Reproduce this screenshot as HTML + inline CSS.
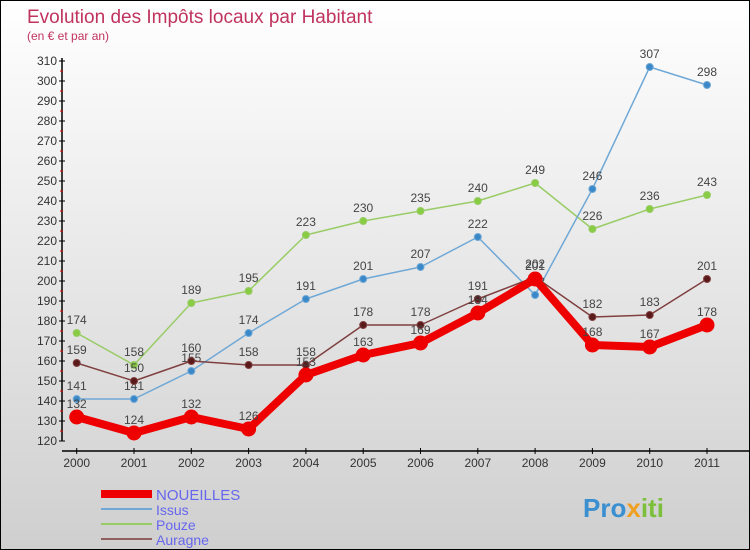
<!DOCTYPE html>
<html><head><meta charset="utf-8"><style>
body{margin:0}
#c{width:750px;height:550px;position:relative;box-sizing:border-box;border:1px solid #000;background:linear-gradient(#fff,#cfcfcf);font-family:"Liberation Sans",sans-serif;overflow:hidden}
svg text{font-family:"Liberation Sans",sans-serif}
</style></head><body>
<div id="c">
<svg id="s" width="750" height="550">
<text x="26" y="22" font-size="19" fill="#c0335f">Evolution des Impôts locaux par Habitant</text>
<text x="26" y="39" font-size="12" fill="#c0335f">(en € et par an)</text>
</svg>
</div>
<script>
const years=[2000,2001,2002,2003,2004,2005,2006,2007,2008,2009,2010,2011];
const noueilles=[132,124,132,126,153,163,169,184,201,168,167,178];
const issus=[141,141,155,174,191,201,207,222,193,246,307,298];
const pouze=[174,158,189,195,223,230,235,240,249,226,236,243];
const auragne=[159,150,160,158,158,178,178,191,202,182,183,201];
const yTicks=[120,130,140,150,160,170,180,190,200,210,220,230,240,250,260,270,280,290,300,310];
const NS='http://www.w3.org/2000/svg', svg=document.getElementById('s');
const X=i=>75.7+i*57.3, Y=v=>60+(310-v)*2;
function mk(t,a,p){const e=document.createElementNS(NS,t);for(const k in a)e.setAttribute(k,a[k]);(p||svg).appendChild(e);return e;}
let e=mk('line',{x1:61,y1:57,x2:61,y2:440,stroke:'#000','stroke-width':1.5});


e=mk('line',{x1:61,y1:450,x2:749,y2:450,stroke:'#000','stroke-width':1.5});


yTicks.forEach(v=>{
 mk('line',{x1:58,y1:Y(v),x2:64,y2:Y(v),stroke:'#000'});
 if(v<310)mk('line',{x1:59,y1:Y(v+5),x2:62,y2:Y(v+5),stroke:'#e00'});
 const t=mk('text',{x:56,y:Y(v)+4,'font-size':12,fill:'#333','text-anchor':'end'});t.textContent=v;
 
 
});
years.forEach((y,i)=>{
 mk('line',{x1:X(i),y1:447,x2:X(i),y2:453,stroke:'#000'});
 const t=mk('text',{x:X(i),y:466,'font-size':12,fill:'#333','text-anchor':'middle'});t.textContent=y;
 
 
});
function series(d,col,w,r,name,dot){
 const g=mk('g',{});
 
 
 mk('polyline',{points:d.map((v,i)=>X(i)+','+Y(v)).join(' '),fill:'none',stroke:col,'stroke-width':w,'stroke-linejoin':'round'},g);
 d.forEach((v,i)=>{
  const c=mk('circle',{cx:X(i),cy:Y(v),r:r,fill:dot,stroke:col},g);
  
  
  const t=mk('text',{x:X(i),y:Y(v)-9,'font-size':12,fill:'#444','text-anchor':'middle'},g);t.textContent=v;
  
  
 });
}
series(pouze,'#99cc66',1.5,3.5,'pouze','#88cc44');
series(issus,'#6fa8d6',1.5,3.5,'issus','#3a88c8');
series(auragne,'#804040',1.5,3.5,'auragne','#5a1a1a');
series(noueilles,'#ee0000',8,7,'noueilles','#ee0000');
const leg=[['NOUEILLES','#ee0000',8],['Issus','#6fa8d6',2],['Pouze','#99cc66',2],['Auragne','#906060',2]];
leg.forEach((l,i)=>{
 const y=493+i*15;
 const ln=mk('line',{x1:100,y1:y,x2:151,y2:y,stroke:l[1],'stroke-width':l[2]});
 
 
 const t=mk('text',{x:155,y:y+6,'font-size':i==0?15:14,fill:'#6666ee'});t.textContent=l[0];
 
 
});
const lg=mk('text',{x:582,y:516,'font-size':26,'font-weight':'bold',fill:'#3a8fd0'});


[['Pro','#3a8fd0'],['x','#f0a020'],['iti','#7cbf3a']].forEach(p=>{const s=mk('tspan',{fill:p[1]},lg);s.textContent=p[0];});
</script>
</body></html>
